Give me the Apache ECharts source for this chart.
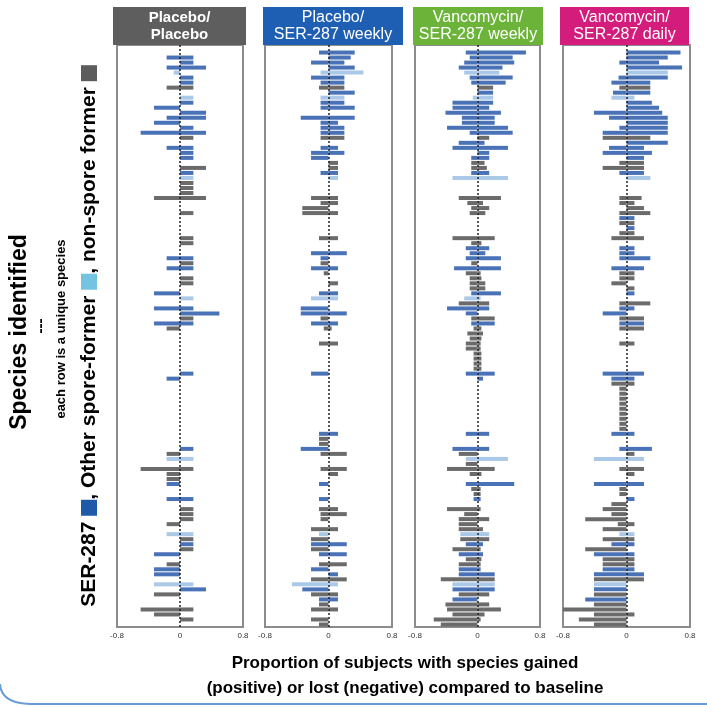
<!DOCTYPE html>
<html lang="en">
<head>
<meta charset="UTF-8">
<title>Species gained or lost</title>
<script src="https://cdn.jsdelivr.net/npm/echarts@6/dist/echarts.min.js"></script>
<style>html,body{margin:0;padding:0;background:#fff;}</style>
</head>
<body>
<div id="chart" style="width:707px;height:707px;"></div>
<script>
// one entry per species row, top to bottom
// 0 = SER-287, 1 = other spore-former, 2 = non-spore former
var speciesType = [
  0,0,0,0,0,1,0,0,2,0,
  1,0,0,0,0,0,0,0,2,0,
  0,0,0,2,2,0,1,2,2,2,
  2,2,2,2,0,2,0,2,2,2,
  0,0,0,2,0,2,2,2,2,0,
  1,2,0,0,2,0,2,2,2,2,
  2,2,2,2,2,0,0,2,2,2,
  2,2,2,2,2,2,2,0,2,2,
  0,2,1,2,2,2,2,0,2,2,
  0,2,2,2,2,2,2,1,2,0,
  2,0,2,2,0,0,2,1,0,2,
  0,2,2,2,2,2
];

var panelNames = ['Placebo/\nPlacebo', 'Placebo/\nSER-287 weekly', 'Vancomycin/\nSER-287 weekly', 'Vancomycin/\nSER-287 daily'];
var panelColors = ['#5e5e5e', '#1f5fb3', '#6cb33a', '#d31c7b'];
var typeColors = ['#4a72b6', '#aac8e8', '#6b6b6b'];
var legendColors = ['#1f5aa8', '#74c3e0', '#5c5c5c'];

var placeboGain = [
  0,0,.17,.17,.33,0,.17,.17,.17,0,
  .17,.17,0,.33,.33,0,.17,.33,.17,0,
  .17,.17,.17,0,.33,.17,.17,.17,.17,.17,
  .33,0,0,.17,0,0,0,0,.17,.17,
  0,0,.17,.17,.17,0,.17,.17,0,0,
  .17,0,.17,.5,.17,.17,0,0,0,0,
  0,0,0,0,0,.17,0,0,0,0,
  0,0,0,0,0,0,0,0,0,0,
  .17,0,.17,0,.17,0,0,0,0,0,
  .17,0,.17,.17,.17,0,0,.17,.17,.17,
  .17,0,0,0,0,0,0,.17,.33,0,
  0,0,.17,0,.17,0
];
var placeboLoss = [
  0,0,-.17,0,-.17,-.08,0,0,-.17,0,
  0,0,-.33,0,-.17,-.33,0,-.5,0,0,
  -.17,0,0,0,0,0,0,0,0,0,
  -.33,0,0,0,0,0,0,0,0,0,
  0,0,-.17,0,-.17,0,0,0,0,-.33,
  0,0,-.33,0,0,-.33,-.17,0,0,0,
  0,0,0,0,0,0,-.17,0,0,0,
  0,0,0,0,0,0,0,0,0,0,
  0,-.17,-.17,0,-.5,-.17,-.17,-.17,0,0,
  -.17,0,0,0,0,-.17,0,-.17,0,0,
  0,-.33,0,-.17,-.33,-.33,0,-.33,0,-.33,
  0,0,-.5,-.33,0,0
];

var serWeeklyGain = [
  0,.33,.28,.2,.33,.44,.2,.2,.2,.33,
  .2,.2,.33,0,.33,.12,.2,.2,.2,0,
  .12,.2,0,.12,.12,.12,.12,0,0,0,
  .12,.12,0,.12,0,0,0,0,.12,0,
  0,.23,0,0,.12,0,0,.12,0,.12,
  .12,0,0,.23,0,.12,.04,0,0,.12,
  0,0,0,0,0,0,0,0,0,0,
  0,0,0,0,0,0,0,.12,0,0,
  0,.23,0,0,.23,.12,0,0,0,0,
  0,0,.12,.23,0,0,.12,0,0,.23,
  0,.23,0,.23,0,.12,.23,.12,0,.12,
  .12,0,.12,0,0,0
];
var serWeeklyLoss = [
  0,-.12,0,-.22,0,-.1,-.22,-.1,-.12,0,
  -.1,-.1,-.1,0,-.35,-.1,-.1,-.1,-.1,0,
  -.1,-.22,-.22,0,0,-.1,0,0,0,0,
  -.22,-.1,-.33,-.33,0,0,0,0,-.12,0,
  0,-.22,-.1,-.1,-.22,-.06,0,0,0,-.12,
  -.22,0,-.35,-.35,-.1,-.22,-.06,0,0,-.12,
  0,0,0,0,0,-.22,0,0,0,0,
  0,0,0,0,0,0,0,-.12,-.12,-.12,
  -.35,-.1,0,0,-.1,0,0,-.12,0,0,
  -.12,0,-.12,-.1,-.1,0,-.22,-.12,-.22,-.22,
  -.22,-.12,0,-.12,-.22,0,-.22,-.46,-.33,-.22,
  -.12,-.12,-.22,0,-.22,-.12
];

var vancoWeeklyGain = [
  0,.62,.45,.47,.32,.28,.45,.36,.2,.2,
  .2,.2,.15,.3,.22,.22,.39,.45,.15,.09,
  .39,.15,.15,.09,.12,.15,.39,0,0,0,
  .3,.07,.15,.1,0,0,0,0,.22,.05,
  .15,.1,.3,0,.3,.04,.05,.1,.1,.3,
  .04,.15,.15,0,.22,.22,.05,.07,.05,.04,
  .04,.05,.05,.05,.05,.22,.07,0,0,0,
  0,0,0,0,0,0,0,.15,0,0,
  .15,0,.39,0,.22,.05,0,.47,.04,.04,
  .04,0,.04,0,.15,0,.07,.15,.15,.07,
  .04,.07,.05,.04,.04,.22,.22,.22,.22,.15,
  0,.15,.3,.09,.04,0
];
var vancoWeeklyLoss = [
  0,-.15,-.1,-.17,-.24,-.17,-.1,-.08,0,0,
  -.06,-.32,-.32,-.41,-.2,-.2,-.39,-.1,0,-.24,
  -.32,0,-.08,-.08,-.08,-.08,-.32,0,0,0,
  -.24,-.13,-.08,-.1,0,0,0,0,-.32,-.08,
  -.15,-.1,-.15,-.08,-.3,-.15,-.1,-.1,-.1,-.08,
  -.17,-.24,-.39,-.15,-.08,-.08,-.05,-.13,-.1,-.15,
  -.15,-.05,-.05,-.05,-.05,-.15,0,0,0,0,
  0,0,0,0,0,0,0,-.15,0,0,
  -.32,-.24,-.15,-.15,-.39,-.1,0,-.15,-.08,-.05,
  -.05,0,-.39,-.17,-.24,-.24,-.24,-.22,-.22,-.15,
  -.32,-.24,-.15,-.24,-.24,-.24,-.47,-.32,-.32,-.24,
  -.32,-.41,-.39,-.32,-.56,-.47
];

var vancoDailyGain = [
  0,.68,.52,.41,.7,.52,.52,.3,.3,.3,
  .1,.32,.41,.45,.52,.52,.52,.52,.3,.52,
  .22,.32,.22,.22,.22,.22,.3,0,0,0,
  .19,.1,.22,.3,.1,.1,.1,.1,.22,0,
  .1,.1,.3,0,.22,.1,.1,0,.1,.1,
  0,.3,.1,0,.22,.22,.22,0,0,.1,
  0,0,0,0,0,.22,.1,.1,0,0,
  0,0,0,0,0,0,0,.1,0,0,
  .32,.1,.22,0,.22,.1,0,.22,0,0,
  .1,0,0,0,0,.1,0,.1,.1,.1,
  0,.1,.1,.1,.1,.22,.22,0,0,0,
  0,0,0,.1,0,0
];
var vancoDailyLoss = [
  0,0,0,-.09,0,0,-.1,-.19,-.09,-.17,
  -.19,0,0,-.41,-.22,0,-.09,-.3,-.3,0,
  -.22,-.3,0,-.09,-.3,-.09,0,0,0,0,
  -.09,-.09,0,-.09,-.09,-.09,0,-.09,-.19,0,
  -.09,-.09,-.09,0,-.19,-.09,-.09,-.19,0,0,
  0,-.09,-.09,-.3,-.09,-.09,-.09,0,0,-.09,
  0,0,0,0,0,-.3,-.19,-.19,-.09,-.09,
  -.09,-.09,-.09,-.09,-.09,-.09,-.09,-.19,0,0,
  -.09,0,-.41,0,-.09,0,0,-.41,-.09,-.09,
  0,-.19,-.3,-.19,-.52,-.11,-.3,-.09,-.3,-.19,
  -.52,-.41,-.3,-.3,-.3,-.41,-.41,-.41,-.41,-.41,
  -.52,-.41,-.8,-.41,-.6,-.41
];

var panelGain = [placeboGain, serWeeklyGain, vancoWeeklyGain, vancoDailyGain];
var panelLoss = [placeboLoss, serWeeklyLoss, vancoWeeklyLoss, vancoDailyLoss];

var gridLeft = [117, 265, 415, 563];
var gridWidth = [126, 127, 125, 127];
var headerBox = [[113, 133], [263, 140], [413, 130], [560, 129]];
var rows = speciesType.map(function (t, i) { return 'r' + i; });

function colored(values) {
  return values.map(function (v, i) {
    return { value: v, itemStyle: { color: typeColors[speciesType[i]] } };
  });
}

var grids = [], xAxes = [], yAxes = [], series = [], graphics = [];
for (var p = 0; p < 4; p++) {
  grids.push({
    left: gridLeft[p], width: gridWidth[p], top: 45, height: 582,
    show: true, borderColor: '#8c8c8c', borderWidth: 2
  });
  xAxes.push({
    gridIndex: p, type: 'value', min: -0.8, max: 0.8, interval: 0.8,
    axisLine: { show: false }, axisTick: { show: false }, splitLine: { show: false },
    axisLabel: { fontSize: 8, color: '#333', margin: 5,
      formatter: function (v) { return v === 0 ? '0' : String(v); } }
  });
  yAxes.push({
    gridIndex: p, type: 'category', data: rows, inverse: true, show: false
  });
  series.push({
    type: 'bar', xAxisIndex: p, yAxisIndex: p, barWidth: 4, barGap: '-100%',
    data: colored(panelGain[p]), silent: true,
    markLine: {
      silent: true, symbol: 'none', label: { show: false },
      lineStyle: { type: [2, 2], color: '#222', width: 1.5 },
      data: [{ xAxis: 0 }]
    }
  });
  series.push({
    type: 'bar', xAxisIndex: p, yAxisIndex: p, barWidth: 4, barGap: '-100%',
    data: colored(panelLoss[p]), silent: true
  });
  graphics.push({
    type: 'rect', shape: { x: headerBox[p][0], y: 7, width: headerBox[p][1], height: 38 },
    style: { fill: panelColors[p] }
  });
  graphics.push({
    type: 'text', x: headerBox[p][0] + headerBox[p][1] / 2, y: 26,
    style: {
      text: panelNames[p], fill: '#fff', align: 'center', verticalAlign: 'middle',
      font: (p === 0 ? 'bold 15px' : '16px') + ' Arial', lineHeight: 17
    }
  });
}

// axis titles
graphics.push({
  type: 'text', x: 20, y: 332, rotation: Math.PI / 2,
  style: { text: 'Species identified', font: 'bold 23px Arial', fill: '#000', align: 'center', verticalAlign: 'middle' }
});
graphics.push({
  type: 'text', x: 41, y: 326, rotation: Math.PI / 2,
  style: { text: '---', font: 'bold 15px Arial', fill: '#000', align: 'center', verticalAlign: 'middle' }
});
graphics.push({
  type: 'text', x: 61, y: 329, rotation: Math.PI / 2,
  style: { text: 'each row is a unique species', font: 'bold 13px Arial', fill: '#000', align: 'center', verticalAlign: 'middle' }
});
graphics.push({
  type: 'text', x: 89, y: 336, rotation: Math.PI / 2,
  style: {
    text: '{t|SER-287 }{a|}{t|, Other spore-former }{b|}{t|, non-spore former }{c|}',
    align: 'center', verticalAlign: 'middle',
    rich: {
      t: { font: 'bold 21px Arial', fill: '#000' },
      a: { width: 16, height: 16, backgroundColor: legendColors[0] },
      b: { width: 16, height: 16, backgroundColor: legendColors[1] },
      c: { width: 16, height: 16, backgroundColor: legendColors[2] }
    }
  }
});
graphics.push({
  type: 'text', x: 405, y: 676,
  style: {
    text: 'Proportion of subjects with species gained\n(positive) or lost (negative) compared to baseline',
    font: 'bold 17px Arial', fill: '#000', align: 'center', verticalAlign: 'middle', lineHeight: 25
  }
});
// slide frame edge at the bottom
graphics.push({
  type: 'bezierCurve', shape: { x1: 0, y1: 684, x2: 30, y2: 704, cpx1: 1, cpy1: 703 },
  style: { stroke: '#6b9bd6', lineWidth: 2, fill: null }
});
graphics.push({
  type: 'line', shape: { x1: 30, y1: 704, x2: 707, y2: 704 },
  style: { stroke: '#6b9bd6', lineWidth: 2 }
});

var chart = echarts.init(document.getElementById('chart'));
chart.setOption({
  animation: false,
  grid: grids,
  xAxis: xAxes,
  yAxis: yAxes,
  series: series,
  graphic: graphics
});
</script>
</body>
</html>
